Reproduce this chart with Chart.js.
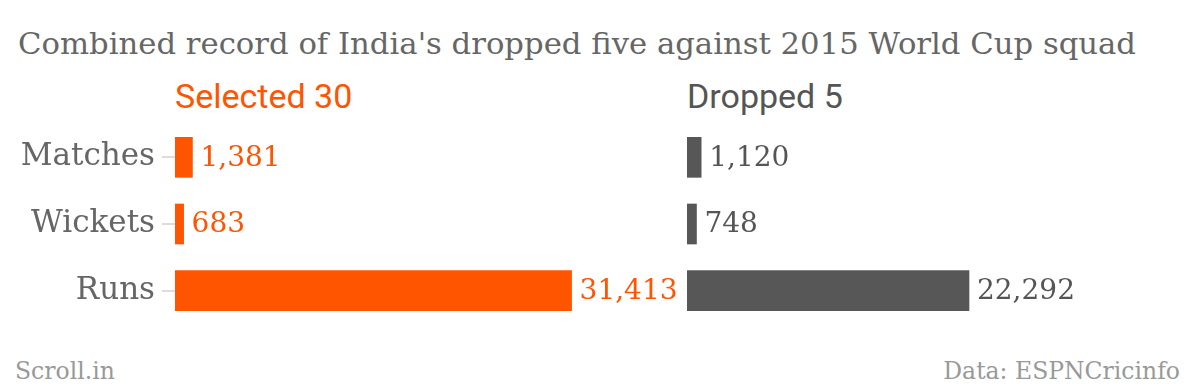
<!DOCTYPE html>
<html>
<head>
<meta charset="utf-8">
<script src="https://cdn.jsdelivr.net/npm/chart.js@4/dist/chart.umd.min.js"></script>
<style>
  html, body { margin:0; padding:0; background:#fff; width:1200px; height:390px; overflow:hidden; }
  .txt { position:absolute; white-space:nowrap; }
  #title { left:18px; top:26px; font-family:"DejaVu Serif"; font-size:30.7px; color:#666; }
  .hdr { top:76px; font-family:Roboto; font-size:34px; }
  #h1 { left:175px; color:#ff5400; }
  #h2 { left:687px; color:#555; }
  .foot { top:357px; font-family:"DejaVu Serif"; font-size:23.5px; color:#999; }
  #src { left:15px; }
  #data { right:20px; }
  canvas { position:absolute; }
  #c1 { left:0; top:124px; }
  #c2 { left:687px; top:124px; }
</style>
</head>
<body>
<div id="title" class="txt">Combined record of India's dropped five against 2015 World Cup squad</div>
<div id="h1" class="txt hdr"></div>
<div id="h2" class="txt hdr"></div>
<canvas id="c1" width="680" height="200"></canvas>
<canvas id="c2" width="506" height="200"></canvas>
<div id="src" class="txt foot">Scroll.in</div>
<div id="data" class="txt foot">Data: ESPNCricinfo</div>
<script>
const categories = ['Matches', 'Wickets', 'Runs'];
const seriesNames = ['Selected 30', 'Dropped 5'];
const selected30 = [1381, 683, 31413];
const dropped5 = [1120, 748, 22292];
const axisMax = 40000;

document.getElementById('h1').textContent = seriesNames[0];
document.getElementById('h2').textContent = seriesNames[1];

const fmt = v => v.toLocaleString('en-US');

const valueLabels = {
  id: 'valueLabels',
  afterDatasetsDraw(chart, args, opts) {
    const ctx = chart.ctx;
    ctx.save();
    ctx.font = opts.font;
    ctx.fillStyle = opts.color;
    ctx.textBaseline = 'middle';
    ctx.textAlign = 'left';
    const meta = chart.getDatasetMeta(0);
    meta.data.forEach((bar, i) => {
      ctx.fillText(fmt(chart.data.datasets[0].data[i]), bar.x + 8, bar.y + 1);
    });
    ctx.restore();
  }
};

function makeChart(id, values, color, labelColor, showY) {
  return new Chart(document.getElementById(id), {
    type: 'bar',
    data: {
      labels: categories,
      datasets: [{ data: values, backgroundColor: color, barThickness: 40, borderWidth: 0 }]
    },
    options: {
      indexAxis: 'y',
      responsive: false,
      animation: false,
      layout: { padding: 0 },
      plugins: {
        legend: { display: false },
        tooltip: { enabled: false },
        valueLabels: { font: '28px "DejaVu Serif"', color: labelColor }
      },
      scales: {
        x: { display: false, min: 0, max: axisMax },
        y: {
          display: showY,
          afterFit(scale) {
            scale.width = showY ? 175 : 0;
            scale.paddingTop = 0;
            scale.paddingBottom = 0;
          },
          border: { display: false },
          grid: { offset: false, drawOnChartArea: false, drawTicks: true, tickLength: 13, color: '#dddddd', lineWidth: 2 },
          ticks: { font: { family: 'DejaVu Serif', size: 31 }, color: '#666', padding: 7 }
        }
      }
    },
    plugins: [valueLabels]
  });
}

makeChart('c1', selected30, '#ff5400', '#ff5400', true);
makeChart('c2', dropped5, '#575757', '#555555', false);
</script>
</body>
</html>
